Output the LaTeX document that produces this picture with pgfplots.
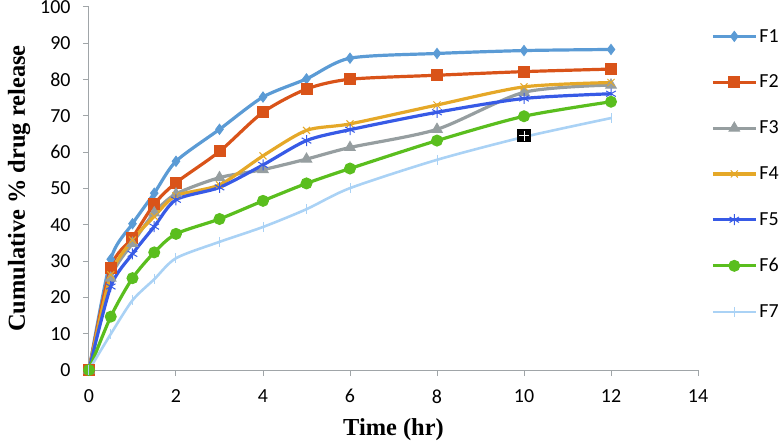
\documentclass[border=0pt]{standalone}
\usepackage{pgfplots}
\pgfplotsset{compat=1.18}
\usepackage{fontspec}
\setmainfont{Carlito}
\newfontfamily\timesfont{Liberation Serif}
\definecolor{cF1}{RGB}{91,155,213}
\definecolor{cF2}{RGB}{217,83,25}
\definecolor{cF3}{RGB}{150,158,160}
\definecolor{cF4}{RGB}{229,168,40}
\definecolor{cF5}{RGB}{55,90,230}
\definecolor{cF6}{RGB}{90,190,30}
\definecolor{cF7}{RGB}{170,210,245}
\definecolor{axgray}{RGB}{160,165,168}
\pgfplotstableread{
x    F1    F2    F3    F4    F5    F6    F7
0    0     0     0     0     0     0     0
0.5  30.5  28.2  25.3  26.2  23.0  14.7  9.9
1    40.3  36.5  34.9  35.8  32.0  25.3  19.2
1.5  48.7  45.7  43.3  42.3  39.5  32.4  25.0
2    57.5  51.6  48.5  48.0  46.9  37.5  30.8
3    66.3  60.2  53.0  51.0  50.3  41.6  35.3
4    75.2  71.0  55.2  59.0  56.5  46.6  39.4
5    80.2  77.4  58.1  66.0  63.2  51.4  44.3
6    85.9  80.1  61.3  67.8  66.2  55.5  50.1
8    87.2  81.2  66.3  73.0  71.0  63.2  57.9
10   88.0  82.2  76.5  78.0  74.8  69.9  64.2
12   88.3  82.9  78.5  79.2  76.1  73.9  69.4
}\datatable
\begin{document}
\begin{tikzpicture}
\begin{axis}[
  at={(0,0)}, anchor=south west,
  width=609bp, height=363bp, scale only axis,
  xmin=0, xmax=14, ymin=0, ymax=100,
  xtick={0,2,...,14}, ytick={0,10,...,100},
  axis x line*=bottom, axis y line*=left,
  axis line style={draw=axgray, line width=1bp},
  every tick/.style={draw=axgray, line width=1bp},
  tick align=outside, major tick length=6bp,
  tick label style={font=\fontsize{20}{20}\selectfont, black},
  /pgf/number format/assume math mode=true,
  xticklabel style={yshift=-10bp},
  yticklabel style={xshift=-9bp},
  xlabel={\timesfont\bfseries Time (hr)},
  ylabel={\timesfont\bfseries Cumulative \% drug release},
  label style={font=\fontsize{24.5}{24.5}\selectfont},
  xlabel style={at={(rel axis cs:0.5,0)}, anchor=center, yshift=-60bp},
  ylabel style={at={(rel axis cs:0,0.5)}, anchor=center, rotate=0, yshift=70bp},
  legend style={at={(1,1)}, anchor=north west, xshift=11bp, yshift=-18bp,
    draw=none, fill=none, font=\fontsize{20}{20}\selectfont,
    row sep=27.5bp, inner sep=2bp},
  legend cell align=left,
  legend image code/.code={\draw[mark repeat=2,mark phase=2,#1] plot coordinates {(0bp,0bp) (21.5bp,0bp) (43bp,0bp)};},
  every axis plot/.append style={line width=3.2bp, smooth, tension=0.45},
]
\addplot[cF1, mark=diamond*, mark size=5bp, mark options={solid,line width=1bp}] table[x=x,y=F1]{\datatable};
\addlegendentry{F1}
\addplot[cF2, mark=square*, mark size=5.5bp, mark options={solid,line width=1bp}] table[x=x,y=F2]{\datatable};
\addlegendentry{F2}
\addplot[cF3, mark=triangle*, mark size=6bp, mark options={solid,line width=1bp}] table[x=x,y=F3]{\datatable};
\addlegendentry{F3}
\addplot[cF4, mark=x, mark size=5bp, mark options={solid,line width=1bp}] table[x=x,y=F4]{\datatable};
\addlegendentry{F4}
\addplot[cF5, mark=asterisk, mark size=5.5bp, mark options={solid,line width=1bp}] table[x=x,y=F5]{\datatable};
\addlegendentry{F5}
\addplot[cF6, mark=*, mark size=5.5bp, mark options={solid,line width=1bp}] table[x=x,y=F6]{\datatable};
\addlegendentry{F6}
\addplot[cF7, line width=2.6bp, mark=|, mark size=5bp, mark options={solid,line width=1bp}] table[x=x,y=F7]{\datatable};
\addlegendentry{F7}
\addplot[forget plot, only marks, black, mark=square*, mark size=5bp] coordinates {(10,64.5)};
\addplot[forget plot, only marks, white, mark=+, mark size=5bp, mark options={line width=0.8bp}] coordinates {(10,64.5)};
\end{axis}
\pgfresetboundingbox
\path[use as bounding box] (-89bp,-75bp) rectangle (692bp,370bp);
\end{tikzpicture}
\end{document}
